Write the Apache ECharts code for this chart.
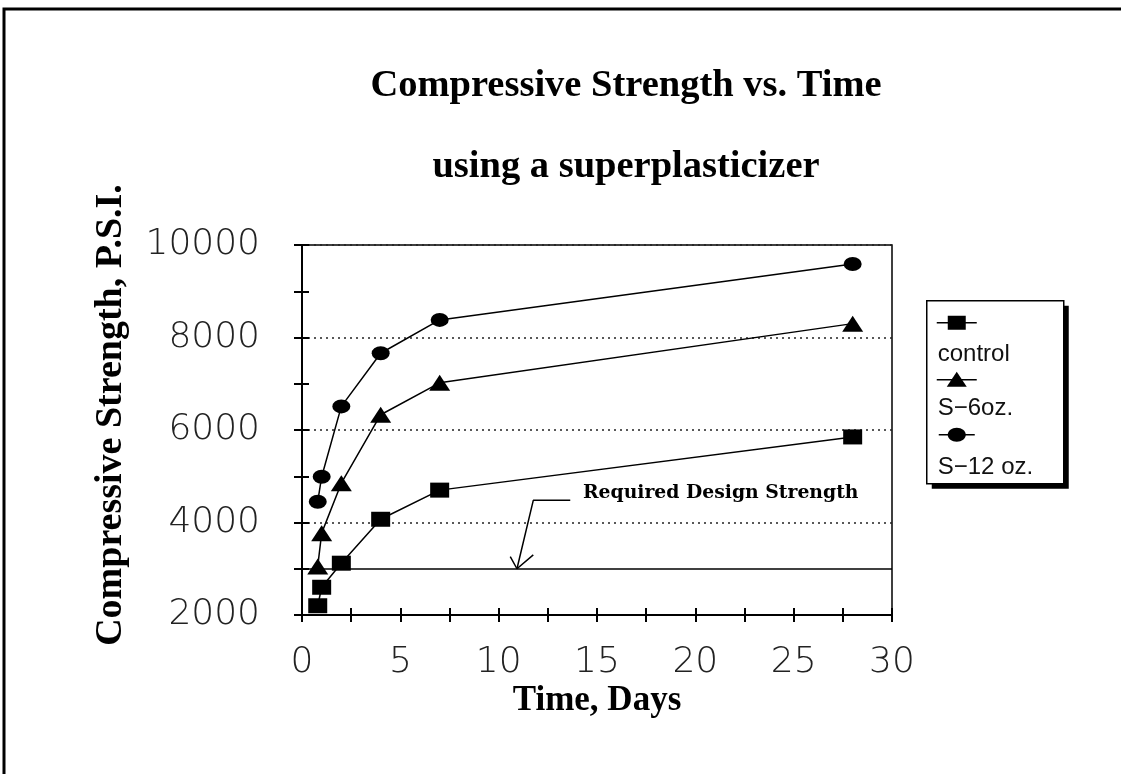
<!DOCTYPE html>
<html>
<head>
<meta charset="utf-8">
<script src="https://cdn.jsdelivr.net/npm/echarts@6/dist/echarts.min.js"></script>
<style>html,body{margin:0;padding:0;background:#fff}#c{width:1121px;height:774px}</style>
</head>
<body>
<div id="c"></div>
<script>
// ---- data ----
const days = [0.8, 1, 2, 4, 7, 28];
const controlPSI = [2200, 2600, 3120, 4070, 4700, 5850];
const s6PSI = [3050, 3770, 4850, 6330, 7020, 8300];
const s12PSI = [4450, 4990, 6510, 7660, 8380, 9590];
const seriesNames = ['control', 'S\u22126oz.', 'S\u221212 oz.'];
const requiredStrength = 3000;
const annotationLabel = 'Required Design Strength';
const leaderLine = [[13.64, 4480], [11.76, 4480], [10.93, 3000]];
const arrowHead = [[10.59, 3260], [10.93, 3000], [11.76, 3300]];
const yTicks = [2000, 10000, 2000]; // min, max, interval
const xTicks = [0, 30, 5];

const pair = (xs, ys) => xs.map((x, i) => [x, ys[i]]);
const serif = "'Liberation Serif', 'Times New Roman', serif";
const sans = "'DejaVu Sans', sans-serif";

const chart = echarts.init(document.getElementById('c'), null, {renderer: 'canvas'});

const baseX = {
  type: 'value', min: xTicks[0], max: xTicks[1], interval: xTicks[2], position: 'bottom', offset: 0,
  axisLine: {show: true, onZero: false, lineStyle: {color: '#000', width: 2}},
  splitLine: {show: false}
};
const baseY = {
  type: 'value', min: yTicks[0], max: yTicks[1], interval: yTicks[2], position: 'left', offset: 0,
  axisLine: {show: true, onZero: false, lineStyle: {color: '#000', width: 2}}
};

const option = {
  animation: false,
  backgroundColor: '#fff',
  title: {
    text: 'Compressive Strength vs. Time',
    subtext: 'using a superplasticizer',
    left: 621, top: 62, textAlign: 'center', itemGap: 42,
    textStyle: {fontFamily: serif, fontWeight: 'bold', fontSize: 38.5, color: '#000'},
    subtextStyle: {fontFamily: serif, fontWeight: 'bold', fontSize: 38.5, color: '#000'}
  },
  grid: {left: 302, right: 229, top: 245, bottom: 159, show: true, borderColor: '#000', borderWidth: 1.5, backgroundColor: 'transparent'},
  xAxis: [
    Object.assign({}, baseX, {
      name: 'Time, Days', nameLocation: 'middle', nameGap: 68,
      nameTextStyle: {fontFamily: serif, fontWeight: 'bold', fontSize: 35, color: '#000'},
      axisTick: {show: true, inside: false, length: 7, lineStyle: {color: '#000', width: 2}},
      minorTick: {show: true, splitNumber: 2, length: 7, lineStyle: {color: '#000', width: 2}},
      axisLabel: {margin: 30, fontFamily: sans, fontWeight: 200, fontSize: 36, color: '#222'}
    }),
    Object.assign({}, baseX, {
      axisTick: {show: true, inside: true, length: 7, lineStyle: {color: '#000', width: 2}},
      minorTick: {show: true, splitNumber: 2, length: 7, lineStyle: {color: '#000', width: 2}},
      axisLabel: {show: false}
    })
  ],
  yAxis: [
    Object.assign({}, baseY, {
      name: 'Compressive Strength, P.S.I.', nameLocation: 'middle', nameGap: 172, nameRotate: 90,
      nameTextStyle: {fontFamily: serif, fontWeight: 'bold', fontSize: 38, color: '#000', padding: [0, 0, 0, 30]},
      axisTick: {show: true, inside: false, length: 8, lineStyle: {color: '#000', width: 2}},
      minorTick: {show: true, splitNumber: 2, length: 8, lineStyle: {color: '#000', width: 2}},
      axisLabel: {margin: 42, fontFamily: sans, fontWeight: 200, fontSize: 36, color: '#222', formatter: v => String(v)},
      splitLine: {show: true, lineStyle: {color: '#222', width: 1.5, type: [2, 4]}}
    }),
    Object.assign({}, baseY, {
      axisTick: {show: true, inside: true, length: 7, lineStyle: {color: '#000', width: 2}},
      minorTick: {show: true, splitNumber: 2, length: 7, lineStyle: {color: '#000', width: 2}},
      axisLabel: {show: false}, splitLine: {show: false}
    })
  ],
  series: [
    {
      name: seriesNames[0], type: 'line', data: pair(days, controlPSI),
      symbol: 'rect', symbolSize: [19, 15], itemStyle: {color: '#000'},
      lineStyle: {color: '#000', width: 1.5},
      markLine: {
        silent: true, symbol: 'none', label: {show: false},
        lineStyle: {color: '#000', width: 1.5, type: 'solid'},
        data: [{yAxis: requiredStrength}]
      }
    },
    {
      name: seriesNames[1], type: 'line', data: pair(days, s6PSI),
      symbol: 'triangle', symbolSize: [21, 16], itemStyle: {color: '#000'},
      lineStyle: {color: '#000', width: 1.5}
    },
    {
      name: seriesNames[2], type: 'line', data: pair(days, s12PSI),
      symbol: 'circle', symbolSize: [18, 14], itemStyle: {color: '#000'},
      lineStyle: {color: '#000', width: 1.5}
    },
    {
      name: 'leader', type: 'line', data: leaderLine, symbol: 'none', silent: true,
      lineStyle: {color: '#000', width: 1.5}
    },
    {
      name: 'arrow', type: 'line', data: arrowHead, symbol: 'none', silent: true,
      lineStyle: {color: '#000', width: 1.5}
    }
  ],
  graphic: [
    {type: 'rect', shape: {x: 4, y: 9, width: 1300, height: 900}, style: {fill: 'none', stroke: '#000', lineWidth: 3}, silent: true},
    {type: 'text', left: 583, top: 484, style: {text: annotationLabel, font: "bold 18.8px 'DejaVu Serif', serif", fill: '#000'}},
    {
      type: 'group', left: 926, top: 300,
      children: [
        {type: 'rect', shape: {x: 5, y: 5, width: 137, height: 183}, style: {fill: '#000'}},
        {type: 'rect', shape: {x: 0, y: 0, width: 137, height: 183}, style: {fill: '#fff', stroke: '#000', lineWidth: 1.5}},
        {type: 'line', shape: {x1: 10, y1: 22, x2: 50, y2: 22}, style: {stroke: '#000', lineWidth: 1.5}},
        {type: 'rect', shape: {x: 21, y: 15, width: 18, height: 14}, style: {fill: '#000'}},
        {type: 'text', x: 11, y: 54, style: {text: seriesNames[0], font: "24px 'Liberation Sans', sans-serif", fill: '#111', verticalAlign: 'middle'}},
        {type: 'line', shape: {x1: 10, y1: 79, x2: 50, y2: 79}, style: {stroke: '#000', lineWidth: 1.5}},
        {type: 'polygon', shape: {points: [[30, 71], [20, 86], [40, 86]]}, style: {fill: '#000'}},
        {type: 'text', x: 11, y: 108, style: {text: seriesNames[1], font: "24px 'Liberation Sans', sans-serif", fill: '#111', verticalAlign: 'middle'}},
        {type: 'line', shape: {x1: 12, y1: 134, x2: 48, y2: 134}, style: {stroke: '#000', lineWidth: 1.5}},
        {type: 'ellipse', shape: {cx: 30, cy: 134, rx: 9, ry: 7}, style: {fill: '#000'}},
        {type: 'text', x: 11, y: 167, style: {text: seriesNames[2], font: "24px 'Liberation Sans', sans-serif", fill: '#111', verticalAlign: 'middle'}}
      ]
    }
  ]
};
chart.setOption(option);
</script>
</body>
</html>
